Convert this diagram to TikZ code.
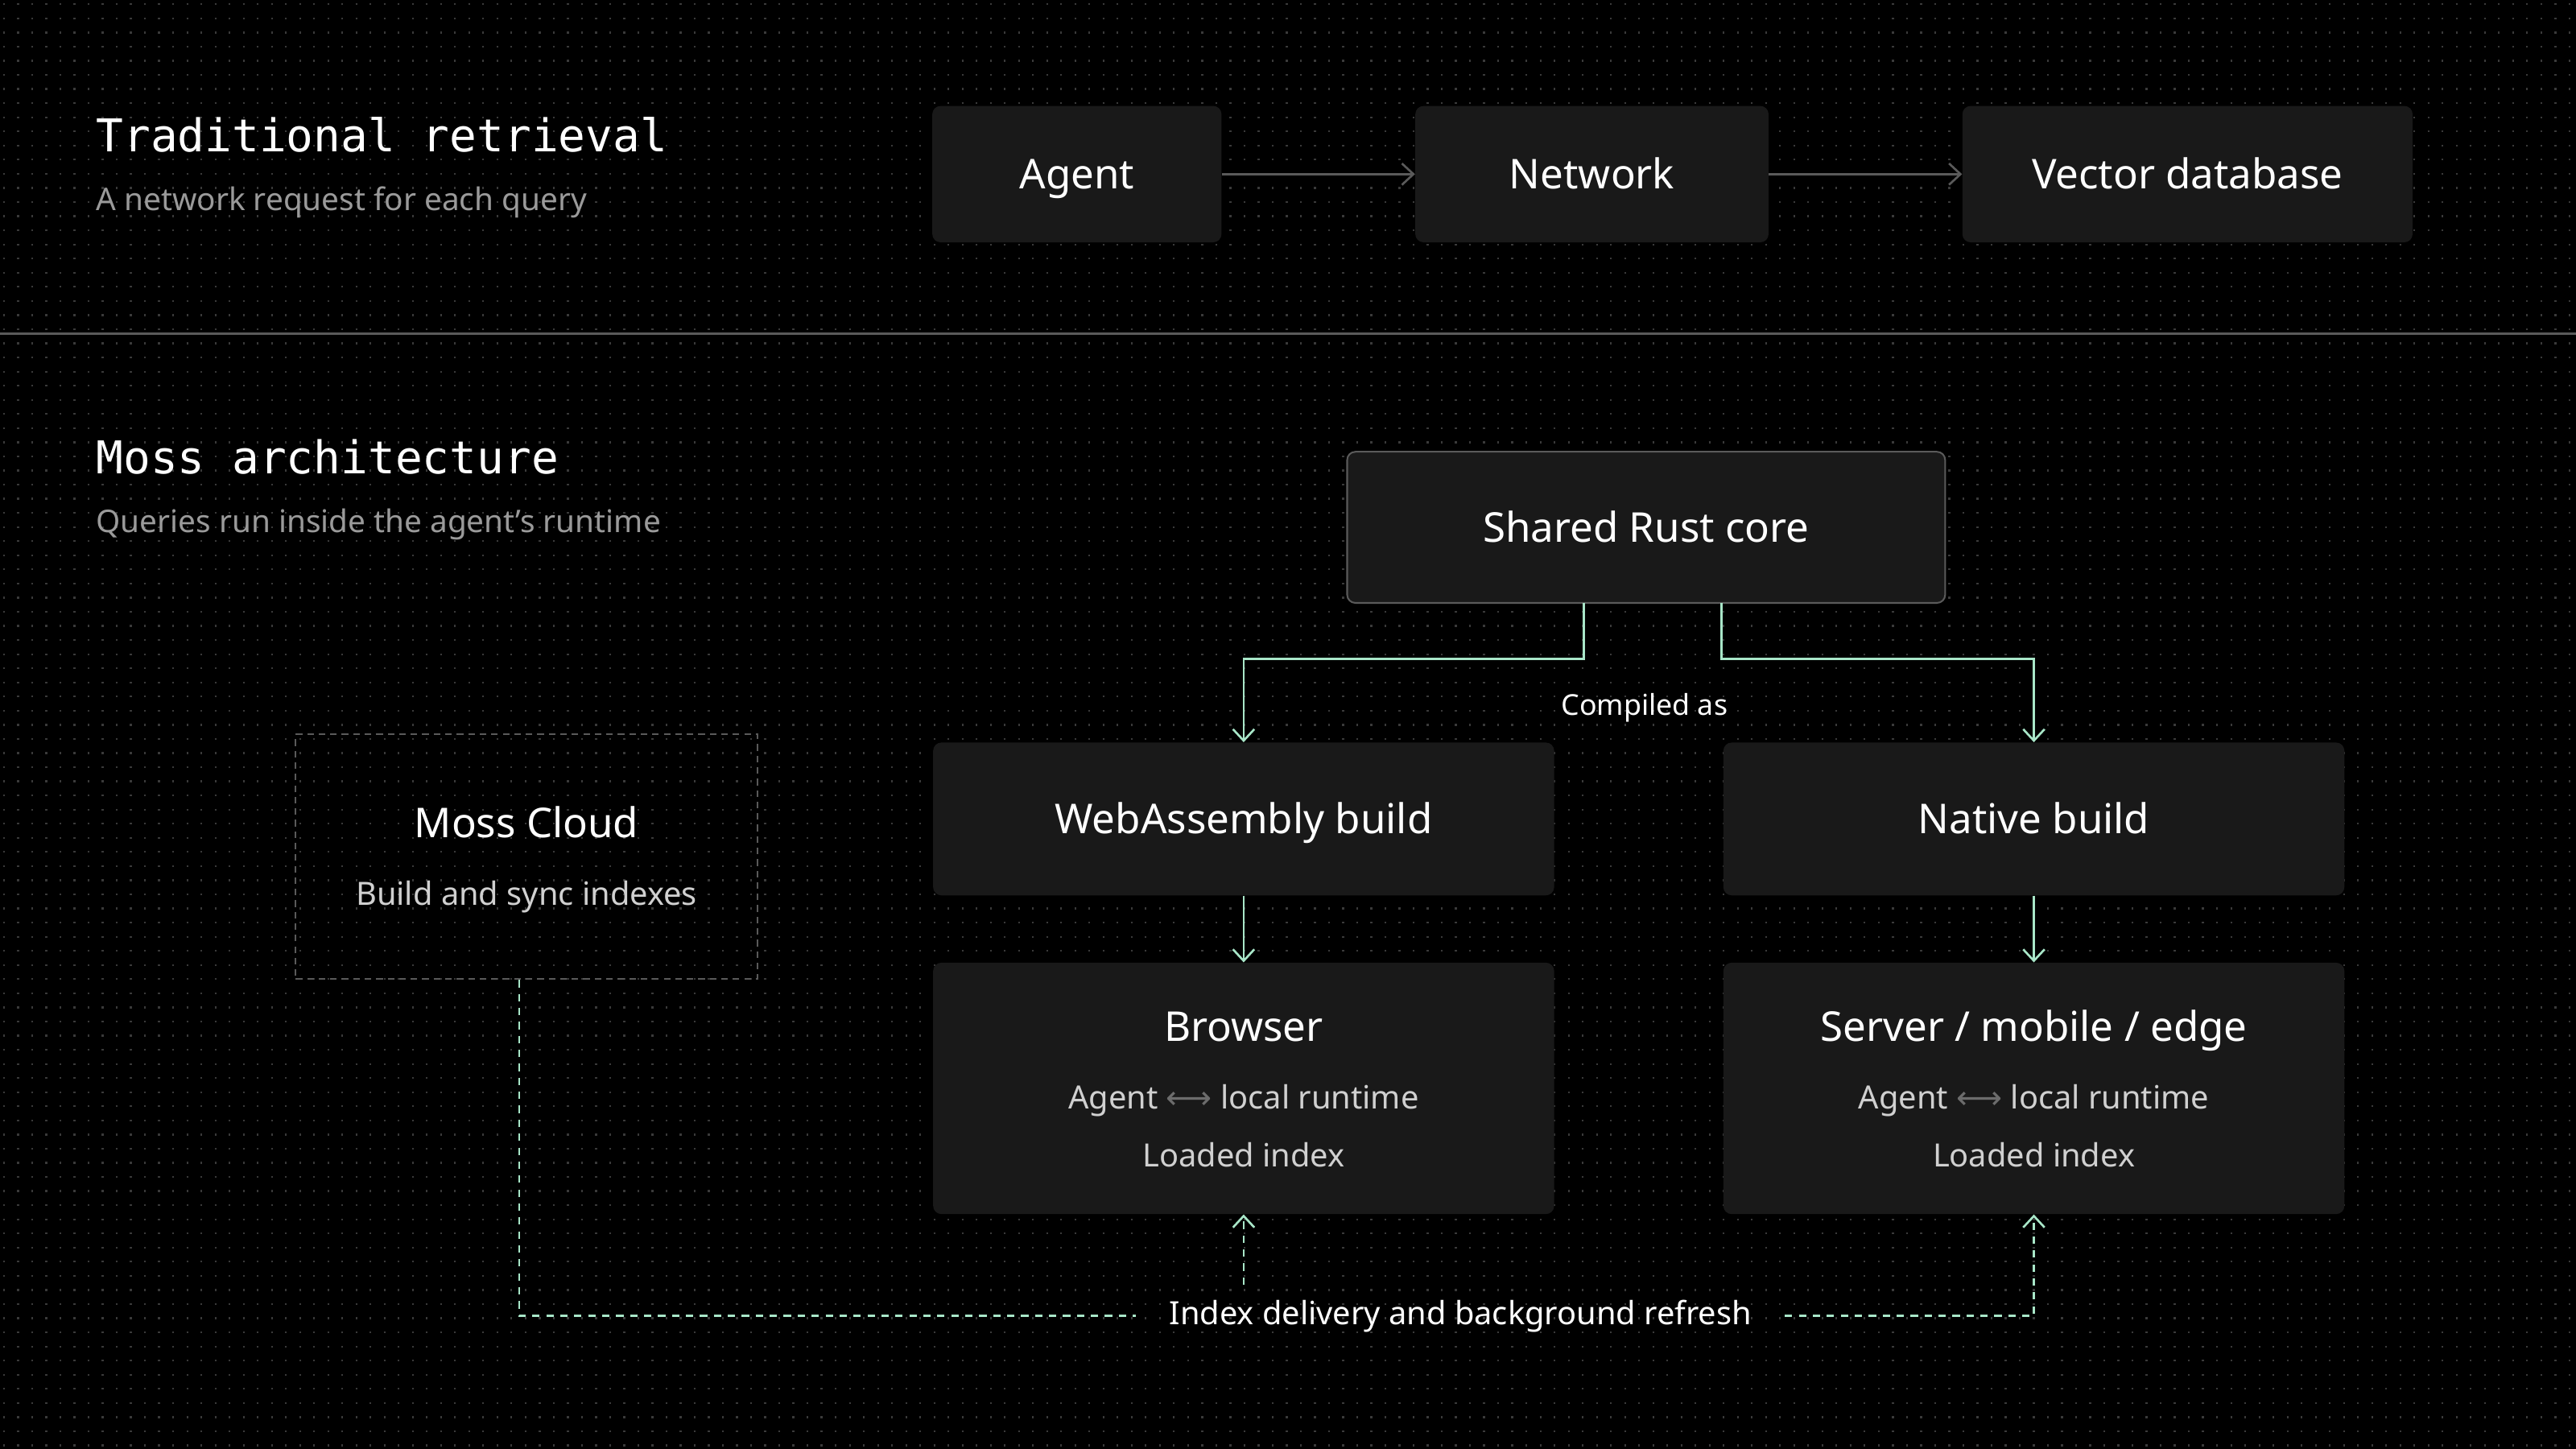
\documentclass[tikz,border=0pt]{standalone}
\usepackage{fontspec}
\setmainfont{Noto Sans}
\setmonofont{DejaVu Sans Mono}
\newfontfamily\symf{DejaVu Sans}
\usetikzlibrary{arrows.meta}
\definecolor{bg}{HTML}{000000}
\definecolor{boxc}{HTML}{191919}
\definecolor{dotc}{HTML}{3A3A3A}
\definecolor{mint}{HTML}{A8E6C8}
\definecolor{grayline}{HTML}{5A5A5A}
\definecolor{subc}{HTML}{9A9A9A}
\definecolor{txtc}{HTML}{D0D0D0}
\begin{document}
\begin{tikzpicture}[x=1pt,y=-1pt,
  box/.style={fill=boxc,rounded corners=5pt,draw=none,text=white,font=\fontsize{25}{29}\selectfont,text height=18pt,text depth=5pt},
  lbl/.style={text=white,font=\fontsize{25}{29}\selectfont,text height=18pt,text depth=5pt,yshift=-2.5pt},
  ttl/.style={anchor=west,text=white,font=\ttfamily\fontsize{27.5}{31}\selectfont},
  sub/.style={anchor=west,text=subc,font=\fontsize{19}{23}\selectfont},
  tip/.style={-{Straight Barb[length=7pt,width=13pt]}},
  gar/.style={draw=grayline,line width=1.3pt,tip},
  mar/.style={draw=mint,line width=1.3pt,tip},
  dmar/.style={draw=mint,line width=1.3pt,dash pattern=on 4.5pt off 4pt},
  inner/.style={text=txtc,font=\fontsize{19.5}{23}\selectfont}]
\fill[bg] (0,0) rectangle (1568,882);
\useasboundingbox (0,0) rectangle (1568,882);
\foreach \y in {2.6,11.2,...,882}
  \draw[dotc,line width=1.1pt,dash pattern=on 1.1pt off 7.48pt] (1.9,\y) -- (1568,\y);
% top
\node[ttl] at (55,82) {Traditional retrieval};
\node[sub] at (55,123) {A network request for each query};
\node[box,minimum width=176pt,minimum height=83pt] (agent) at (655.5,106) {};
\node[box,minimum width=215pt,minimum height=83pt] (net) at (969,106) {};
\node[box,minimum width=274pt,minimum height=83pt] (vdb) at (1331.5,106) {};
\node[lbl] (agentt) at (agent.center) {Agent};
\node[lbl] (nett) at (net.center) {Network};
\node[lbl] (vdbt) at (vdb.center) {Vector database};
\draw[gar] (agent) -- (net);
\draw[gar] (net) -- (vdb);
\draw[grayline,line width=1.2pt] (0,203) -- (1568,203);
% bottom
\node[ttl] at (55,278) {Moss architecture};
\node[sub] at (55,319) {Queries run inside the agent's runtime};
\node[box,draw=grayline,line width=1pt,minimum width=364pt,minimum height=92pt] (core) at (1002,321) {};
\node[lbl] (coret) at (core.center) {Shared Rust core};
\node[box,minimum width=378pt,minimum height=93pt] (wasm) at (757,498.5) {};
\node[box,minimum width=378pt,minimum height=93pt] (nat) at (1238,498.5) {};
\node[lbl] (wasmt) at (wasm.center) {WebAssembly build};
\node[lbl] (natt) at (nat.center) {Native build};
\node[box,minimum width=378pt,minimum height=153pt] (brow) at (757,662.5) {};
\node[box,minimum width=378pt,minimum height=153pt] (serv) at (1238,662.5) {};
\node[lbl] (browt) at (757,625) {Browser};
\node[lbl] (servt) at (1238,625) {Server / mobile / edge};
\node[inner] (bl1) at (757,670) {Agent {\color{subc!70!black}\symf ⟷} local runtime};
\node[inner] (bl2) at (757,703) {Loaded index};
\node[inner] (sl1) at (1238,670) {Agent {\color{subc!70!black}\symf ⟷} local runtime};
\node[inner] (sl2) at (1238,703) {Loaded index};
\node[text=white,font=\fontsize{17.5}{21}\selectfont] (comp) at (1001,431) {Compiled as};
\draw[mar] (964,367) |- (757,401) -- (wasm.north);
\draw[mar] (1048,367) |- (1238,401) -- (nat.north);
\draw[mar] (wasm) -- (brow);
\draw[mar] (nat) -- (serv);
% cloud
\node[draw=grayline,dash pattern=on 4pt off 3pt,line width=1pt,minimum width=281pt,minimum height=149pt] (cloud) at (320.5,521.5) {};
\node[lbl] (cloudt) at (320.5,501) {Moss Cloud};
\node[inner] (clouds) at (320.5,546) {Build and sync indexes};
\node[text=white,font=\fontsize{19.5}{23}\selectfont,inner xsep=20pt] (idx) at (889,801) {Index delivery and background refresh};
\coordinate (cl) at (316,596.5);
\draw[dmar] (cl) |- (idx.west);
\coordinate (bj) at (757,782);
\draw[dmar,tip] (bj) -- (brow.south);
\draw[dmar,tip] (idx.east) -| (serv.south);
\end{tikzpicture}
\end{document}
